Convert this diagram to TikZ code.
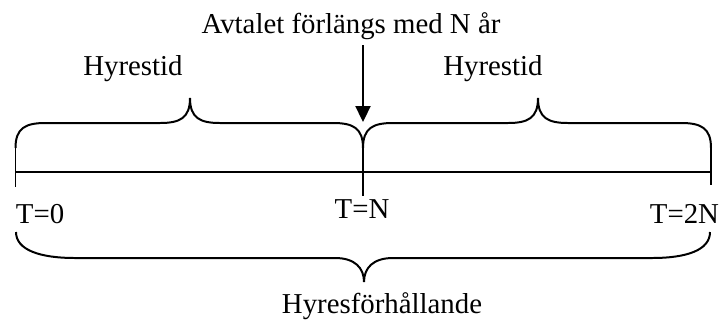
\documentclass[tikz,border=0pt]{standalone}
\usepackage{fontspec}
\setmainfont{Liberation Serif}
\usetikzlibrary{arrows.meta}

\begin{document}
\begin{tikzpicture}[x=0.03cm, y=-0.03cm, line width=1.7pt,
    label/.style={font=\fontsize{24.6}{29}\selectfont, inner sep=0pt}]
    % Define colours
    \definecolor{lineColour}{HTML}{000000}

    % Define levels of the time line and the braces
    \def\lineY{172}
    \def\braceY{123}
    \def\braceEnd{148}

    \useasboundingbox (0,0) rectangle (721,323);

    % Draw the time line
    \coordinate (start) at (15.5,\lineY);
    \coordinate (end) at (711,\lineY);
    \draw[lineColour] (start) -- (end);

    % Draw the ticks
    \draw[lineColour] (15.5,\braceEnd) -- (15.5,187);
    \draw[lineColour] (363,\braceEnd) -- (363,196);
    \draw[lineColour] (711,\braceEnd) -- (711,185);

    % Draw the upper braces (start/cusp/end)
    \foreach \a/\c/\b in {15.5/190/363, 363/538/711}
        \draw[lineColour] (\a,\braceEnd) .. controls (\a,128) and (\a+10,\braceY) .. (\a+30,\braceY)
            -- (\c-30,\braceY) .. controls (\c-10,\braceY) and (\c,118) .. (\c,98)
            .. controls (\c,118) and (\c+10,\braceY) .. (\c+30,\braceY)
            -- (\b-30,\braceY) .. controls (\b-10,\braceY) and (\b,128) .. (\b,\braceEnd);

    % Draw the lower brace
    \draw[lineColour] (16,232) .. controls (16,250) and (40,258) .. (75,258)
        -- (335,258) .. controls (355,258) and (364,268) .. (364,282)
        .. controls (364,268) and (373,258) .. (393,258)
        -- (652,258) .. controls (687,258) and (710,250) .. (710,232);

    % Labels
    \node[label, anchor=base] (avtal) at (351,33) {Avtalet förlängs med N år};
    \node[label, anchor=base] (hyr1) at (133,75) {Hyrestid};
    \node[label, anchor=base] (hyr2) at (493,75) {Hyrestid};
    \node[label, anchor=base west] (t0) at (15,223) {T=0};
    \node[label, anchor=base] (tn) at (362,218) {T=N};
    \node[label, anchor=base east] (t2n) at (720,223) {T=2N};
    \node[label, anchor=base] (hyrf) at (382,313) {Hyresförhållande};

    % Arrow to the end of the first period
    \coordinate (arrowTop) at (363,45);
    \coordinate (arrowTip) at (363,122);
    \draw[lineColour, -{Triangle[width=12.8pt, length=13.6pt]}] (arrowTop) -- (arrowTip);
\end{tikzpicture}
\end{document}
